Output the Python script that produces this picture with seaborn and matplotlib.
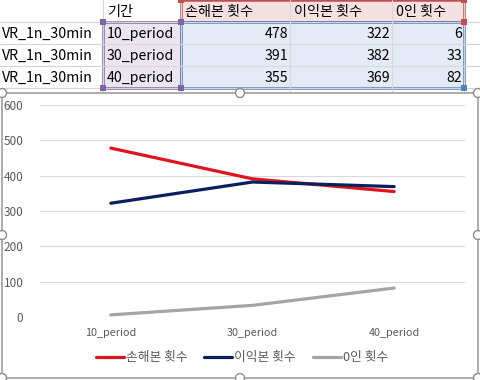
import pandas as pd
import matplotlib
matplotlib.use("Agg")
import matplotlib.pyplot as plt
import seaborn as sns
from matplotlib.patches import Rectangle, FancyBboxPatch, Circle

# data
row_labels = ["VR_1n_30min", "VR_1n_30min", "VR_1n_30min"]
periods = ["10_period", "30_period", "40_period"]
series_names = ["손해본 횟수", "이익본 횟수", "0인 횟수"]
loss_counts = [478, 391, 355]
gain_counts = [322, 382, 369]
zero_counts = [6, 33, 82]
y_ticks = [0, 100, 200, 300, 400, 500, 600]
colors = ["#e0141e", "#0b1f5c", "#a5a5a5"]

sns.set_theme(style="white")
plt.rcParams["font.family"] = ["Noto Sans CJK KR", "DejaVu Sans"]

W, H = 481, 380
fig = plt.figure(figsize=(W / 100, H / 100), dpi=100)

# background layer in pixel coordinates (spreadsheet cells, chart frame)
bg = fig.add_axes([0, 0, 1, 1], zorder=0)
bg.set_xlim(0, W)
bg.set_ylim(H, 0)
bg.axis("off")

grid_c = "#d4d4d4"
col_edges = [0, 103, 181, 290, 392, 464, W]
row_edges = [0, 22, 44, 66, 88]
for x in col_edges[1:-1]:
    bg.plot([x, x], [0, 92], color=grid_c, lw=0.8)
for y in row_edges[1:]:
    bg.plot([0, W], [y, y], color=grid_c, lw=0.8)

bg.add_patch(Rectangle((181, 0), 283, 22, facecolor="#f6e1e2", edgecolor="#c0504d", lw=1.8))
bg.add_patch(Rectangle((103, 22), 78, 66, facecolor="#ebe5f1", edgecolor="#8064a2", lw=1.8))
bg.add_patch(Rectangle((181, 22), 283, 66, facecolor="#e5ebf6", edgecolor="#4f81bd", lw=1.8))
for x in [290, 392]:
    bg.plot([x, x], [2, 86], color="#d9d9d9", lw=0.8)
for y in [44, 66]:
    bg.plot([183, 462], [y, y], color="#d9d9d9", lw=0.8)
    bg.plot([105, 179], [y, y], color="#d9d9d9", lw=0.8)
for (x, y, c) in [(103, 22, "#8064a2"), (181, 22, "#8064a2"), (103, 88, "#8064a2"),
                  (181, 88, "#8064a2"), (464, 88, "#4f81bd"), (181, 0, "#c0504d"),
                  (464, 0, "#c0504d"), (464, 22, "#c0504d")]:
    bg.add_patch(Rectangle((x - 3, y - 3), 6, 6, facecolor=c, edgecolor="none", zorder=5))

tfs = 10.2
tc = "#000000"
bg.text(107, 12, "기간", fontsize=tfs, color=tc, va="center", ha="left")
for x, name in zip([185, 294, 396], series_names):
    bg.text(x, 12, name, fontsize=tfs, color=tc, va="center", ha="left")
for i, (lab, per) in enumerate(zip(row_labels, periods)):
    yc = 34 + 22 * i
    bg.text(2, yc, lab, fontsize=tfs, color=tc, va="center", ha="left")
    bg.text(107, yc, per, fontsize=tfs, color=tc, va="center", ha="left")
    for x, v in zip([288, 390, 462], [loss_counts[i], gain_counts[i], zero_counts[i]]):
        bg.text(x, yc, str(v), fontsize=tfs, color=tc, va="center", ha="right")

# chart frame
bg.add_patch(FancyBboxPatch((2, 93), 476, 285, boxstyle="round,pad=0,rounding_size=6",
                            facecolor="white", edgecolor="#8c8c8c", lw=1.0, zorder=3))
for (x, y) in [(2, 93), (240, 93), (478, 93), (2, 235), (478, 235), (2, 378), (240, 378), (478, 378)]:
    bg.add_patch(Circle((x, y), 4.5, facecolor="white", edgecolor="#8c8c8c", lw=1.0, zorder=4))

# line chart
df = pd.DataFrame({
    "period": periods * 3,
    "count": loss_counts + gain_counts + zero_counts,
    "series": [series_names[0]] * 3 + [series_names[1]] * 3 + [series_names[2]] * 3,
})

ax = fig.add_axes([40 / W, 1 - 317 / H, 425 / W, 212 / H], zorder=5)
ax.patch.set_alpha(0)
sns.lineplot(data=df, x="period", y="count", hue="series", hue_order=series_names,
             palette=colors, linewidth=2.3, sort=False, ax=ax, legend=True)
ax.set_xlim(-0.5, 2.5)
ax.set_ylim(0, 600)
ax.set_yticks(y_ticks)
ax.yaxis.grid(True, color="#d9d9d9", lw=0.8)
ax.set_axisbelow(True)
for s in ax.spines.values():
    s.set_visible(False)
ax.set_xlabel("")
ax.set_ylabel("")
ax.tick_params(axis="both", length=0, labelcolor="#595959")
ax.tick_params(axis="y", labelsize=8.5, pad=12)
ax.tick_params(axis="x", labelsize=7.8, pad=8)

handles, labels = ax.get_legend_handles_labels()
ax.get_legend().remove()
fig.legend(handles, labels, loc="center", bbox_to_anchor=(242 / W, 1 - 358 / H), ncol=3,
           frameon=False, fontsize=9.2, labelcolor="#595959", handlelength=2.2,
           handletextpad=0.15, columnspacing=1.3)

fig.savefig("out.png", dpi=100)
